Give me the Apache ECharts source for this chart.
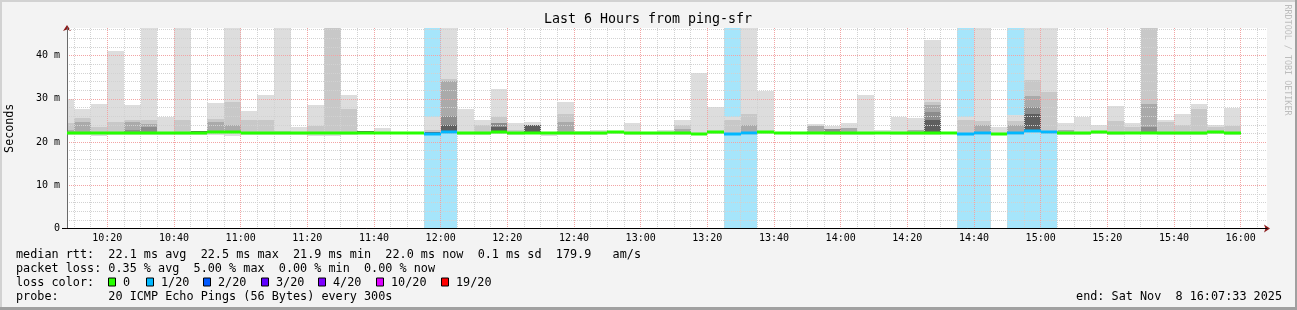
<!DOCTYPE html>
<html>
<head>
<meta charset="utf-8">
<script src="https://cdn.jsdelivr.net/npm/echarts@6/dist/echarts.min.js"></script>
<style>
html,body{margin:0;padding:0;background:#f3f3f3;}
#chart{width:1297px;height:310px;}
</style>
</head>
<body>
<div id="chart"></div>
<script>
// ---------------- data ----------------
const TITLE = 'Last 6 Hours from ping-sfr';
const X_MIN = 607.9;            // window start, minutes after midnight (10:07:54)
const X_MAX = 967.9;            // window end (16:07:54)
const FIRST_SLOT_START = 605;   // 10:05, first (partly visible) 300 s step
const STEP_MIN = 5;
const Y_MAX = 46.4;             // ms at top of plot

const xTickLabels = ['10:20','10:40','11:00','11:20','11:40','12:00','12:20','12:40','13:00','13:20','13:40','14:00','14:20','14:40','15:00','15:20','15:40','16:00'];
const yTickValues = [0, 10, 20, 30, 40];
const yTickLabels = ['0', '10 m', '20 m', '30 m', '40 m'];

// per 5-minute step (ms); null = band not visible
const pingMax = [30.0,27.6,28.7,41.0,28.5,52,25.8,52,22.5,29.0,52,27.1,30.8,52,23.5,28.5,52,30.8,22.6,23.2,22.3,22.4,25.8,52,27.6,25.0,32.2,24.5,24.7,22.4,29.3,22.5,22.9,22.5,24.5,22.3,22.7,25.2,35.9,28.1,25.8,52,31.8,22.3,22.3,24.2,23.7,24.5,30.8,22.9,25.8,25.6,43.6,22.4,25.8,52,23.5,26.2,52,52,24.4,25.8,24.0,28.3,24.4,52,25.0,26.6,28.9,24.0,28.0];
const pingP90 = [24.3,25.6,23.5,24.6,25.2,25.0,null,25.0,null,25.3,29.3,25.0,25.0,22.6,null,23.7,50,27.6,null,null,null,null,22.8,34.7,null,24.0,25.8,22.9,null,null,26.6,null,null,null,null,null,null,24.0,null,null,25.2,26.4,null,null,null,null,null,null,null,null,null,null,29.3,null,25.2,24.8,null,24.8,34.3,31.6,null,null,null,24.8,23.5,50,24.6,24.0,27.6,23.5,23.7];
const pingP75 = [22.8,24.6,null,null,24.6,24.2,null,null,null,24.6,24.0,null,null,null,null,null,null,null,null,null,null,null,null,34.1,null,null,null,null,null,null,24.6,null,null,null,null,null,null,23.0,null,null,null,24.0,null,null,null,23.7,null,23.2,null,null,null,22.7,28.5,null,null,23.9,null,23.9,30.7,null,22.7,null,null,null,null,28.8,null,null,null,null,null];
const pingP60 = [null,null,null,null,22.9,23.5,null,null,null,null,null,null,null,null,null,null,null,null,null,null,null,null,null,26.1,null,null,24.5,null,null,null,null,null,null,null,null,null,null,null,null,null,null,null,null,null,null,null,23.1,null,null,null,null,null,27.0,null,null,null,null,null,28.1,null,null,null,null,null,null,23.5,null,null,null,null,null];
const pingP55 = [null,null,null,null,null,null,null,null,22.5,null,null,null,null,null,null,null,null,null,22.5,null,null,null,22.3,23.9,null,null,23.5,null,23.9,null,null,null,null,null,null,null,null,null,null,null,null,22.3,null,null,null,null,null,null,null,22.4,null,null,25.2,null,null,null,null,null,26.6,null,null,null,null,null,null,null,null,null,null,null,null];
const pingMedian = [22.2,22.2,22.1,22.1,22.1,22.1,22.1,22.1,22.0,22.3,22.3,22.0,22.1,22.1,22.0,22.0,22.0,22.1,22.0,22.1,22.1,22.1,21.9,22.4,22.0,22.1,22.3,22.1,22.2,22.0,22.0,22.0,22.0,22.3,22.0,22.0,22.0,22.0,21.9,22.3,21.9,22.0,22.3,22.1,22.1,22.2,22.0,22.1,22.1,22.0,22.2,22.2,22.2,22.2,21.9,22.0,21.9,22.0,22.5,22.4,22.0,22.0,22.3,22.1,22.2,22.2,22.0,22.0,22.0,22.3,22.1];
const pingMin = [21.7,21.7,21.4,21.6,21.6,21.7,21.7,21.7,21.7,21.7,21.5,21.7,21.7,21.6,21.7,21.5,21.5,21.7,21.8,21.8,21.9,21.9,21.7,21.8,21.7,21.7,21.8,21.7,21.8,21.5,21.7,21.7,21.7,21.9,21.7,21.6,21.7,21.7,21.6,21.8,21.6,21.7,21.8,21.9,21.9,21.8,21.6,21.7,21.7,21.8,21.7,21.7,21.7,21.9,21.6,21.7,21.6,21.7,22.0,21.9,21.7,21.7,21.8,21.7,21.8,21.8,21.6,21.7,21.7,21.8,21.7];
const lostPings = [0,0,0,0,0,0,0,0,0,0,0,0,0,0,0,0,0,0,0,0,0,0,1,1,0,0,0,0,0,0,0,0,0,0,0,0,0,0,0,0,1,1,0,0,0,0,0,0,0,0,0,0,0,0,1,1,0,1,1,1,0,0,0,0,0,0,0,0,0,0,0];

const lossLegendLabels = ['0','1/20','2/20','3/20','4/20','10/20','19/20'];
const lossLegendColors = ['#26ff00','#00b8ff','#0059ff','#5e00ff','#7e00ff','#dd00ff','#ff0000'];
const lossColorByCount = {0:'#26ff00', 1:'#00b8ff', 2:'#0059ff'};

const legendRows = [
  'median rtt:  22.1 ms avg  22.5 ms max  21.9 ms min  22.0 ms now  0.1 ms sd  179.9   am/s',
  'packet loss: 0.35 % avg  5.00 % max  0.00 % min  0.00 % now',
  'loss color:',
  'probe:       20 ICMP Echo Pings (56 Bytes) every 300s'
];
const endText = 'end: Sat Nov  8 16:07:33 2025';
const watermark = 'RRDTOOL / TOBI OETIKER';

// ---------------- styling ----------------
const MONO = '"DejaVu Sans Mono", monospace';
const SMOKE_COLORS = ['#dddddd','#c8c8c8','#aaaaaa','#8c8c8c','#5e5e5e'];
const LOSS_BG = '#a6e5fb';
const MAJOR_GRID = '#f2a4a4';
const MINOR_GRID = '#d2d2d2';
const ARROW = '#8b1a1a';

const toMin = s => { const p = s.split(':'); return (+p[0]) * 60 + (+p[1]); };
const fmtTime = v => { const h = Math.floor(v / 60), m = Math.round(v % 60); return h + ':' + (m < 10 ? '0' : '') + m; };
const majorX = xTickLabels.map(toMin);
const minorX = [];
for (let t = 610; t < X_MAX; t += STEP_MIN) if (t % 20 !== 0) minorX.push(t);
const majorY = [10, 20, 30, 40];
const minorY = [];
for (let v = 2; v < Y_MAX; v += 2) if (v % 10 !== 0) minorY.push(v);

const slots = pingMax.map((_, i) => {
  const s = FIRST_SLOT_START + STEP_MIN * i;
  return [s, s + STEP_MIN, pingMin[i], pingMax[i]];
});
const lossSlots = slots.filter((_, i) => lostPings[i] > 0).map(d => [d[0], d[1], 0, Y_MAX]);
const medianSlots = slots.map((d, i) => [d[0], d[1], pingMedian[i], lostPings[i]]);

function rectFor(api, t0, t1, lo, hi) {
  t0 = Math.max(t0, X_MIN); t1 = Math.min(t1, X_MAX);
  hi = Math.min(hi, Y_MAX); lo = Math.max(lo, 0);
  const a = api.coord([t0, hi]);
  const b = api.coord([t1, lo]);
  const x = Math.round(a[0]), y = Math.round(a[1]);
  return { x: x, y: y, width: Math.round(b[0]) - x, height: Math.round(b[1]) - y };
}

function renderSmoke(params, api) {
  const i = params.dataIndex;
  const t0 = api.value(0), t1 = api.value(1);
  const med = pingMedian[i];
  const layers = [
    [pingMin[i], pingMax[i], SMOKE_COLORS[0]],
    [med, pingP90[i], SMOKE_COLORS[1]],
    [med, pingP75[i], SMOKE_COLORS[2]],
    [med, pingP60[i], SMOKE_COLORS[3]],
    [med, pingP55[i], SMOKE_COLORS[4]]
  ];
  const children = [];
  layers.forEach(l => {
    if (l[1] == null) return;
    children.push({ type: 'rect', shape: rectFor(api, t0, t1, l[0], l[1]), style: { fill: l[2] } });
  });
  return { type: 'group', children: children };
}

function renderLoss(params, api) {
  return { type: 'rect', shape: rectFor(api, api.value(0), api.value(1), api.value(2), api.value(3)), style: { fill: LOSS_BG } };
}

function renderMedian(params, api) {
  const t0 = Math.max(api.value(0), X_MIN), t1 = Math.min(api.value(1), X_MAX);
  const a = api.coord([t0, api.value(2)]);
  const b = api.coord([t1, api.value(2)]);
  const x = Math.round(a[0]);
  const yc = Math.round(a[1]);
  return { type: 'rect', shape: { x: x, y: yc - 1.5, width: Math.round(b[0]) - x, height: 3 },
           style: { fill: lossColorByCount[api.value(3)] || '#26ff00' } };
}

// ---------------- legend graphics ----------------
const graphics = [];
// frame
graphics.push({ type: 'rect', shape: { x: 0, y: 0, width: 1297, height: 2 }, style: { fill: '#d2d2d2' }, silent: true });
graphics.push({ type: 'rect', shape: { x: 0, y: 0, width: 2, height: 310 }, style: { fill: '#d2d2d2' }, silent: true });
graphics.push({ type: 'rect', shape: { x: 0, y: 307, width: 1297, height: 3 }, style: { fill: '#a0a0a0' }, silent: true });
graphics.push({ type: 'rect', shape: { x: 1295, y: 0, width: 2, height: 310 }, style: { fill: '#a0a0a0' }, silent: true });
// short stub of the x axis left of the y axis
graphics.push({ type: 'line', shape: { x1: 62, y1: 228.5, x2: 67, y2: 228.5 }, style: { stroke: '#000', lineWidth: 1 }, silent: true });
// title
graphics.push({ type: 'text', x: 648, y: 20, style: { text: TITLE, align: 'center', verticalAlign: 'middle', fontFamily: MONO, fontSize: 13.3, fill: '#000' } });
// legend rows
const rowY = [254.5, 268.5, 282.5, 296.5];
legendRows.forEach((t, i) => {
  graphics.push({ type: 'text', x: 16, y: rowY[i], style: { text: t, verticalAlign: 'middle', fontFamily: MONO, fontSize: 11.8, fill: '#000' } });
});
const boxX = [108, 146, 203, 261, 318, 376, 441];
lossLegendLabels.forEach((lab, i) => {
  graphics.push({ type: 'rect', shape: { x: boxX[i] + 0.5, y: rowY[2] - 4.5, width: 7, height: 8 }, style: { fill: lossLegendColors[i], stroke: '#000', lineWidth: 1 } });
  graphics.push({ type: 'text', x: boxX[i] + 15, y: rowY[2], style: { text: lab, verticalAlign: 'middle', fontFamily: MONO, fontSize: 11.8, fill: '#000' } });
});
graphics.push({ type: 'text', x: 1282, y: rowY[3], style: { text: endText, align: 'right', verticalAlign: 'middle', fontFamily: MONO, fontSize: 11.8, fill: '#000' } });
graphics.push({ type: 'text', x: 1287, y: 60, rotation: -Math.PI / 2, style: { text: watermark, align: 'center', verticalAlign: 'middle', fontFamily: MONO, fontSize: 8.4, fill: '#bdbdbd' } });

// ---------------- chart ----------------
const chart = echarts.init(document.getElementById('chart'), null, { renderer: 'canvas' });
const axisText = { fontFamily: MONO, fontSize: 10, color: '#000' };
chart.setOption({
  animation: false,
  backgroundColor: '#f3f3f3',
  grid: { left: 67, right: 30, top: 28, bottom: 81.5, show: true, backgroundColor: '#ffffff', borderWidth: 0, containLabel: false, outerBoundsMode: 'none' },
  xAxis: [
    { type: 'value', min: X_MIN, max: X_MAX, position: 'bottom', z: 6,
      axisLine: { show: true, onZero: false, lineStyle: { color: '#000', width: 1 } },
      axisTick: { show: false, customValues: majorX },
      axisLabel: Object.assign({ customValues: majorX, formatter: fmtTime, margin: 5 }, axisText),
      splitLine: { show: true, lineStyle: { color: MAJOR_GRID, type: [1, 1], width: 1 } } },
    { type: 'value', min: X_MIN, max: X_MAX, position: 'bottom', z: 5,
      axisLine: { show: false }, axisTick: { show: false, customValues: minorX }, axisLabel: { show: false },
      splitLine: { show: true, lineStyle: { color: MINOR_GRID, type: [1, 1], width: 1 } } },
    { type: 'value', min: X_MIN, max: X_MAX, position: 'bottom', z: 4,
      axisLine: { show: true, onZero: false, symbol: ['none', 'arrow'], symbolSize: [6, 6], symbolOffset: [0, 3], lineStyle: { color: ARROW } },
      axisTick: { show: false }, axisLabel: { show: false }, splitLine: { show: false } }
  ],
  yAxis: [
    { type: 'value', min: 0, max: Y_MAX, position: 'left', z: 6,
      name: 'Seconds', nameLocation: 'middle', nameGap: 51, nameRotate: 90,
      nameTextStyle: { fontFamily: MONO, fontSize: 11.7, color: '#000' },
      axisLine: { show: true, onZero: false, lineStyle: { color: '#6a6a6a', width: 1 } },
      axisTick: { show: false, customValues: majorY },
      axisLabel: Object.assign({ customValues: yTickValues, margin: 7, formatter: v => yTickLabels[yTickValues.indexOf(v)] }, axisText),
      splitLine: { show: true, lineStyle: { color: MAJOR_GRID, type: [1, 1], width: 1 } } },
    { type: 'value', min: 0, max: Y_MAX, position: 'left', z: 5,
      axisLine: { show: false }, axisTick: { show: false, customValues: minorY }, axisLabel: { show: false },
      splitLine: { show: true, lineStyle: { color: MINOR_GRID, type: [1, 1], width: 1 } } },
    { type: 'value', min: 0, max: Y_MAX, position: 'left', z: 4,
      axisLine: { show: true, onZero: false, symbol: ['none', 'arrow'], symbolSize: [6, 6], symbolOffset: [0, 3], lineStyle: { color: ARROW } },
      axisTick: { show: false }, axisLabel: { show: false }, splitLine: { show: false } }
  ],
  series: [
    { type: 'custom', name: 'loss', xAxisIndex: 0, yAxisIndex: 0, z: 1, clip: true,
      renderItem: renderLoss, encode: { x: [0, 1], y: [2, 3] }, data: lossSlots },
    { type: 'custom', name: 'smoke', xAxisIndex: 0, yAxisIndex: 0, z: 2, clip: true,
      renderItem: renderSmoke, encode: { x: [0, 1], y: [2, 3] }, data: slots },
    { type: 'custom', name: 'median', xAxisIndex: 0, yAxisIndex: 0, z: 10, clip: true,
      renderItem: renderMedian, encode: { x: [0, 1], y: 2 }, data: medianSlots }
  ],
  graphic: graphics
});
</script>
</body>
</html>
